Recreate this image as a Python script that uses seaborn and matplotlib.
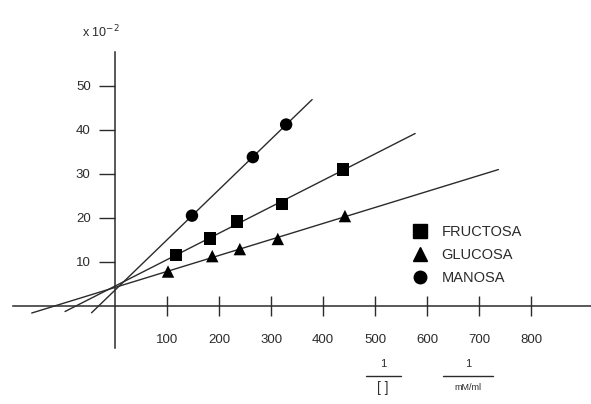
# Lineweaver-Burk plot: FRUCTOSA / GLUCOSA / MANOSA

import numpy as np
import pandas as pd
import matplotlib
matplotlib.use("Agg")
import matplotlib.pyplot as plt
import seaborn as sns
from matplotlib.lines import Line2D


# -------------------------------
# Data
# -------------------------------

fructosa_x = [117, 183, 235, 321, 438]
fructosa_y = [11.5, 15.3, 19.2, 23.2, 31.0]

glucosa_x = [102, 187, 240, 313, 442]
glucosa_y = [7.8, 11.3, 12.9, 15.2, 20.4]

manosa_x = [148, 265, 329]
manosa_y = [20.5, 33.8, 41.2]

# span of each fitted line
fit_span = {"FRUCTOSA": (-96, 577), "GLUCOSA": (-160, 737), "MANOSA": (-45, 379)}

x_ticks = [100, 200, 300, 400, 500, 600, 700, 800]
y_ticks = [10, 20, 30, 40, 50]

df = pd.concat([
    pd.DataFrame({"x": fructosa_x, "y": fructosa_y, "azucar": "FRUCTOSA"}),
    pd.DataFrame({"x": glucosa_x, "y": glucosa_y, "azucar": "GLUCOSA"}),
    pd.DataFrame({"x": manosa_x, "y": manosa_y, "azucar": "MANOSA"}),
], ignore_index=True)


# -------------------------------
# Style
# -------------------------------

sns.set_style("white")
plt.rcParams["font.family"] = ["Liberation Sans", "DejaVu Sans"]

ink = "#2b2b2b"

fig = plt.figure(figsize=(5.91, 4.04), dpi=100)
ax = fig.add_axes([0, 0, 1, 1])


# -------------------------------
# Fitted lines
# -------------------------------

for name, grp in df.groupby("azucar"):
    k, b = np.polyfit(grp["x"], grp["y"], 1)
    x0, x1 = fit_span[name]
    xs = np.array([x0, x1])
    ax.plot(xs, k * xs + b, color=ink, lw=1.0, zorder=2)


# -------------------------------
# Points
# -------------------------------

sns.scatterplot(
    data=df, x="x", y="y",
    style="azucar",
    style_order=["FRUCTOSA", "GLUCOSA", "MANOSA"],
    markers={"FRUCTOSA": "s", "GLUCOSA": "^", "MANOSA": "o"},
    color="black", s=80, edgecolor="black", linewidth=0,
    ax=ax, zorder=3, legend=False
)


# -------------------------------
# Axes through the origin
# -------------------------------

ax.set_xlim(-221, 915)
ax.set_ylim(-22.3, 69.5)

for side in ["top", "right"]:
    ax.spines[side].set_visible(False)

ax.spines["left"].set_position(("data", 0))
ax.spines["bottom"].set_position(("data", 0))
ax.spines["left"].set_bounds(-9.5, 57.7)
ax.spines["bottom"].set_bounds(-196, 915)
for side in ["left", "bottom"]:
    ax.spines[side].set_color(ink)
    ax.spines[side].set_linewidth(1.1)

ax.set_xticks(x_ticks)
ax.set_yticks(y_ticks)
ax.set_xticklabels([str(v) for v in x_ticks])
ax.set_yticklabels([str(v) for v in y_ticks])

ax.tick_params(axis="x", bottom=True, direction="inout", length=14, width=1,
               color=ink, pad=13, labelsize=9.5, labelcolor=ink)
ax.tick_params(axis="y", left=True, direction="out", length=11.5, width=1,
               color=ink, pad=6, labelsize=9.5, labelcolor=ink)

ax.set_xlabel("")
ax.set_ylabel("")

fig.text(82 / 591, 1 - 32 / 404, r"x 10$^{-2}$", fontsize=9, color=ink,
         ha="left", va="center")


# -------------------------------
# Legend
# -------------------------------

handles = [
    Line2D([], [], marker="s", ls="", color="black", markersize=10),
    Line2D([], [], marker="^", ls="", color="black", markersize=10),
    Line2D([], [], marker="o", ls="", color="black", markersize=9),
]
ax.legend(handles, ["FRUCTOSA", "GLUCOSA", "MANOSA"],
          loc="upper left", bbox_to_anchor=(405 / 591, 1 - 218 / 404),
          frameon=False, fontsize=10.5, handlelength=1.0, handletextpad=1.0,
          labelspacing=0.6, borderpad=0, labelcolor=ink)


# -------------------------------
# Axis unit fractions
# -------------------------------

def fraction(cx, bar_w, denom, size):
    fig.text(cx / 591, 1 - 364 / 404, "1", fontsize=8, color=ink,
             ha="center", va="center")
    fig.add_artist(Line2D([(cx - bar_w / 2) / 591, (cx + bar_w / 2) / 591],
                          [1 - 376 / 404, 1 - 376 / 404],
                          color=ink, lw=1.0, transform=fig.transFigure))
    fig.text(cx / 591, 1 - 388 / 404, denom, fontsize=size, color=ink,
             ha="center", va="center")


fraction(383, 35, "[ ]", 10)
fraction(468, 50, "mM/ml", 6.5)


plt.savefig("out.png", dpi=100)
